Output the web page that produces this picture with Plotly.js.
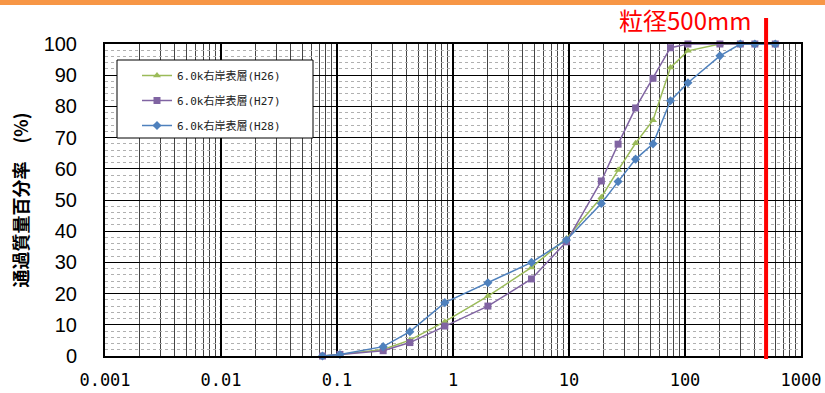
<!DOCTYPE html>
<html>
<head>
<meta charset="utf-8">
<script src="https://cdn.plot.ly/plotly-3.0.1.min.js"></script>
<style>
html,body{margin:0;padding:0;background:#fff;}
#chart{width:825px;height:393px;}
</style>
</head>
<body>
<div id="chart"></div>
<script>
// Sieve sizes (mm)
const sieveSizes = [0.075, 0.106, 0.25, 0.425, 0.85, 2, 4.75, 9.5, 19, 26.5, 37.5, 53, 75, 106, 200, 300, 400, 600];
// Percent passing
const passH26 = [0, 0.5, 2.1, 5.1, 11.0, 19.2, 28.4, 37.7, 50.9, 59.6, 68.2, 75.6, 92.5, 97.8, 100, 100, 100, 100];
const passH27 = [0, 0.5, 1.7, 4.3, 9.6, 16.0, 24.7, 36.6, 56.1, 67.9, 79.5, 89.0, 98.8, 100, 100, 100, 100, 100];
const passH28 = [0, 0.5, 3.0, 7.8, 17.1, 23.5, 30.0, 37.2, 48.9, 55.9, 63.1, 68.0, 81.8, 87.6, 96.2, 100, 100, 100];
const seriesNames = ["6.0k右岸表層(H26)", "6.0k右岸表層(H27)", "6.0k右岸表層(H28)"];
const markLineSize = [500];
const markLabel = "粒径500mm";
const yTitle = "通過質量百分率　(%)";

const colors = ["#9BBB59", "#8064A2", "#4F81BD"];
const symbols = ["triangle-up", "square", "diamond"];
const allValues = [passH26, passH27, passH28];

const traces = allValues.map((vals, i) => ({
  type: "scatter",
  mode: "lines+markers",
  x: sieveSizes,
  y: vals,
  name: seriesNames[i],
  legendgroup: "g" + i,
  line: {color: colors[i], width: 1.5},
  marker: {color: colors[i], symbol: symbols[i], size: 7, line: {width: 0}},
  cliponaxis: false
}));

const W = 696, H = 312, L = 105, T = 44;
const layout = {
  width: 825,
  height: 393,
  margin: {l: L, r: 24, t: T, b: 37},
  paper_bgcolor: "#ffffff",
  plot_bgcolor: "#ffffff",
  showlegend: true,
  legend: {
    x: (137 - L) / W, y: (T + H - 61) / H, xanchor: "left", yanchor: "top",
    bgcolor: "rgba(0,0,0,0)", borderwidth: 0,
    font: {family: "DejaVu Sans Mono, Noto Sans CJK JP", size: 11, color: "#222"},
    tracegroupgap: 6,
    itemwidth: 30
  },
  xaxis: {
    type: "log",
    range: [-3, 3],
    dtick: 1,
    showgrid: true, gridcolor: "#000000", gridwidth: 1.2,
    minor: {dtick: "D1", showgrid: true, gridcolor: "#444444", gridwidth: 1, ticks: ""},
    showline: true, linecolor: "#000000", linewidth: 2, mirror: true,
    ticks: "", ticklabelstandoff: 8,
    tickfont: {family: "DejaVu Sans Mono, Noto Sans CJK JP", size: 17, color: "#000"},
    zeroline: false,
    automargin: false
  },
  yaxis: {
    range: [0, 100],
    dtick: 10,
    showgrid: true, gridcolor: "#000000", gridwidth: 1,
    minor: {dtick: 2, showgrid: true, gridcolor: "#b0b0b0", gridwidth: 1, griddash: "dot"},
    showline: true, linecolor: "#000000", linewidth: 2, mirror: true,
    ticks: "inside", ticklen: 6, tickcolor: "#000", ticklabelstandoff: 22,
    tickfont: {family: "Liberation Sans Narrow, Liberation Sans, Arial", size: 20, color: "#000"},
    zeroline: false,
    automargin: false,
    title: {text: yTitle, font: {family: "Noto Sans CJK JP", size: 18, color: "#000", weight: "bold"}, standoff: 10}
  },
  shapes: [
    {type: "rect", xref: "paper", yref: "paper",
     x0: -L / W, x1: 1 + 24 / W, y0: (T + H - 5) / H, y1: (T + H + 1) / H,
     fillcolor: "#F79646", line: {width: 0}, layer: "above"},
    {type: "rect", xref: "paper", yref: "paper",
     x0: (117 - L) / W, x1: (313 - L) / W, y0: (T + H - 138) / H, y1: (T + H - 60) / H,
     fillcolor: "#ffffff", line: {color: "#000000", width: 1}, layer: "above"},
    {type: "line", xref: "x", yref: "paper",
     x0: markLineSize[0], x1: markLineSize[0], y0: -0.01, y1: 1.083,
     line: {color: "#FF0000", width: 4}, layer: "above"}
  ],
  annotations: [
    {xref: "paper", yref: "paper", x: (685 - L) / W, y: 1.077, xanchor: "center", yanchor: "middle",
     text: markLabel, showarrow: false,
     font: {family: "Noto Sans CJK JP", size: 24, color: "#FF0000"}}
  ]
};

Plotly.newPlot("chart", traces, layout, {displayModeBar: false, staticPlot: true});
</script>
</body>
</html>
